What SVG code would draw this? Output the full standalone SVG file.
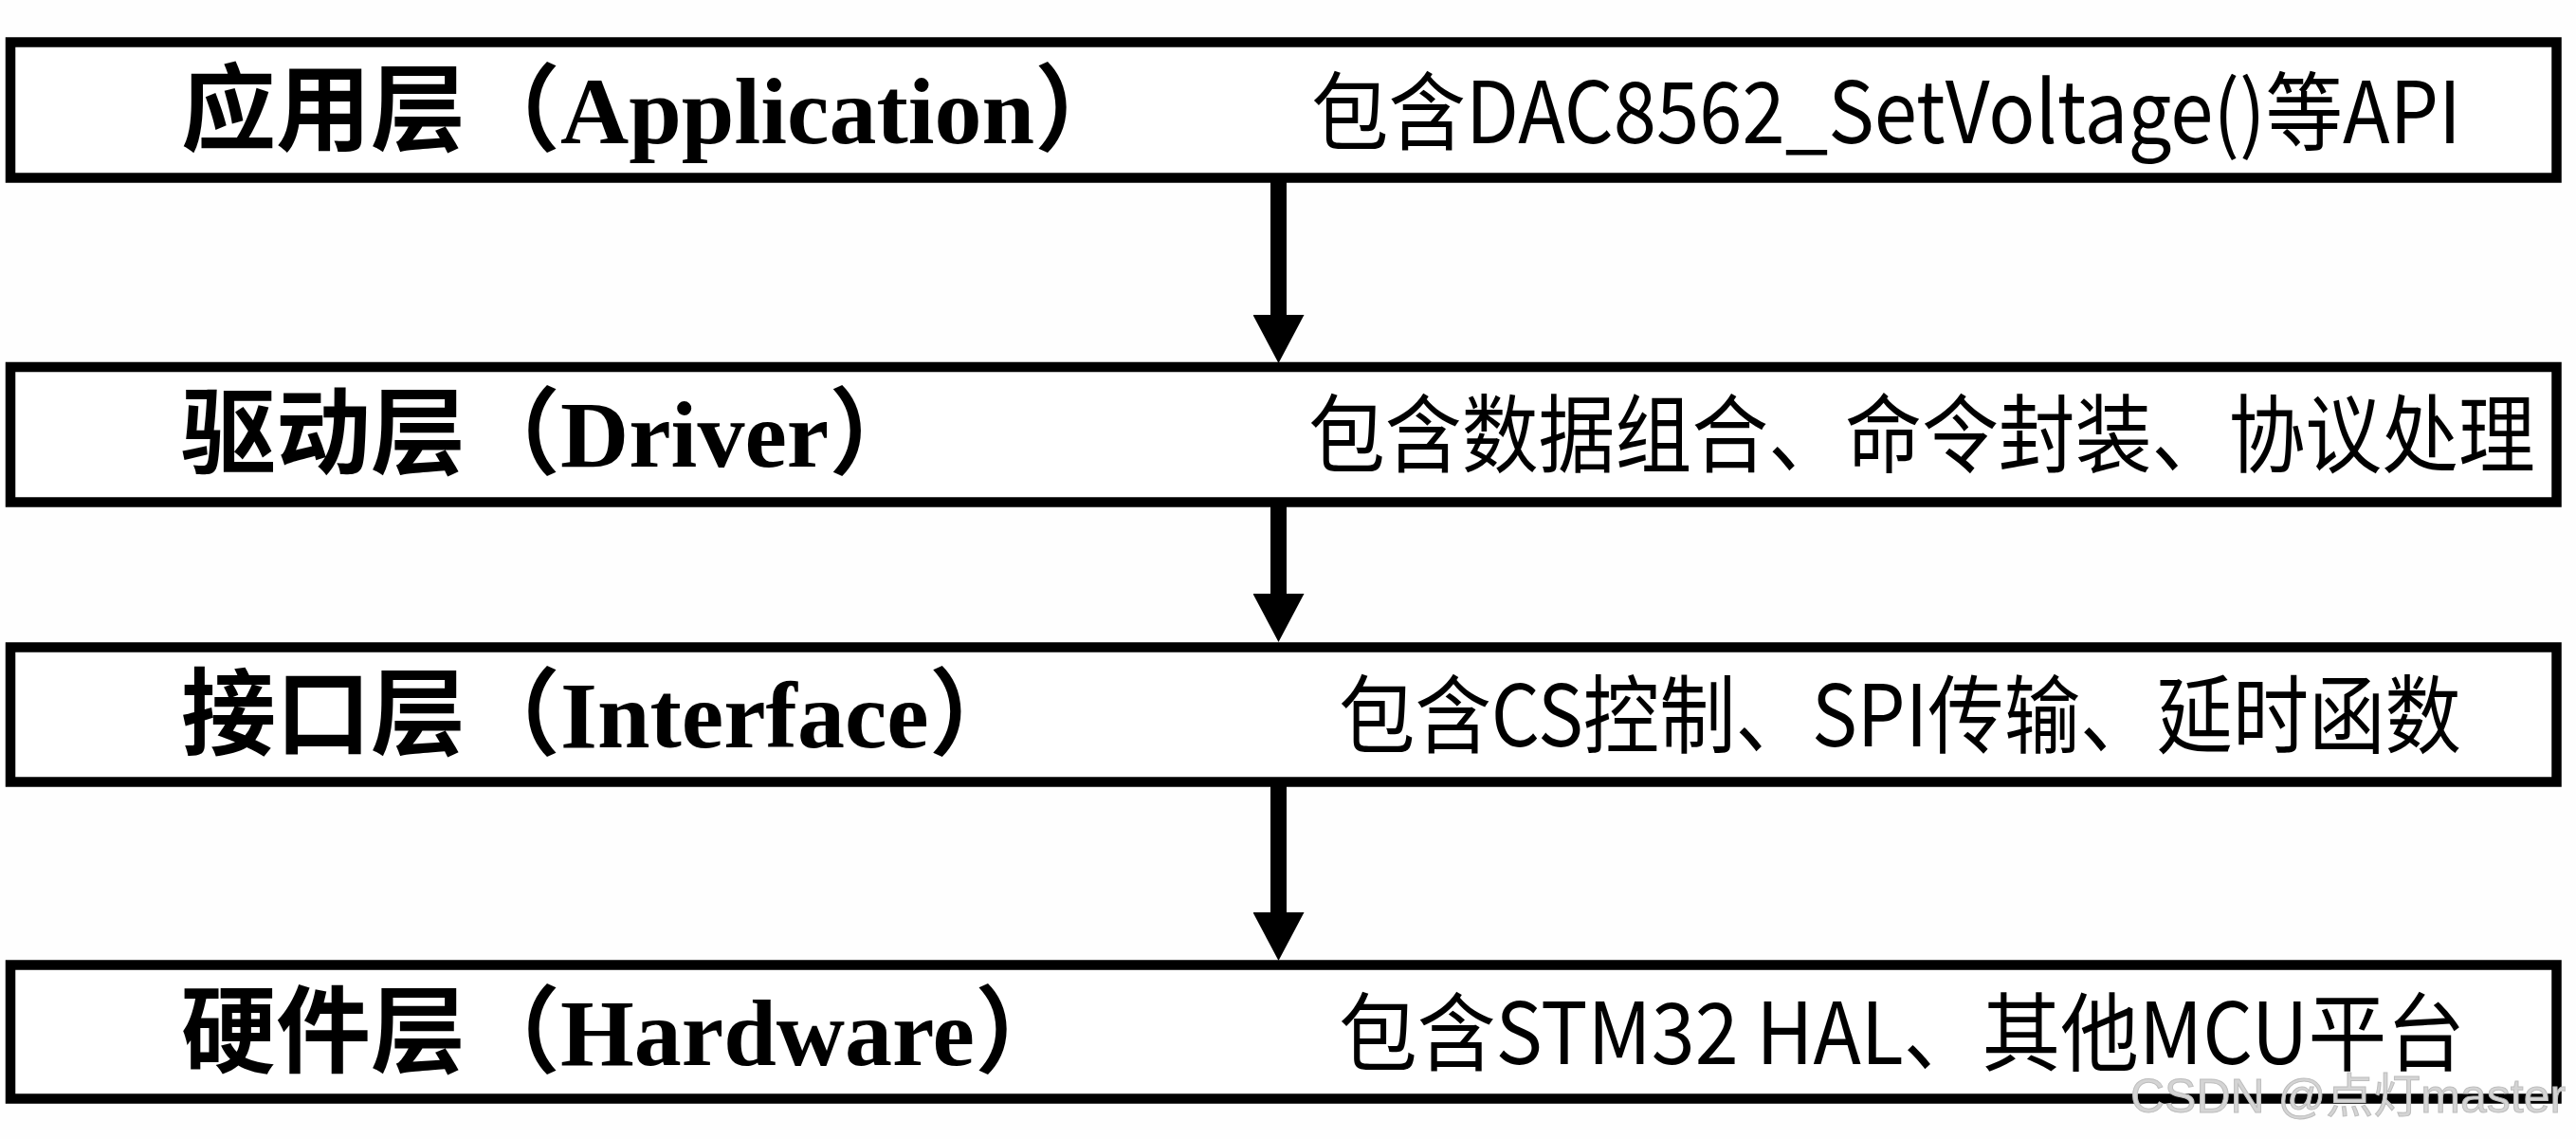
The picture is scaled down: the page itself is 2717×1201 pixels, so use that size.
<svg xmlns="http://www.w3.org/2000/svg" width="2717" height="1201" viewBox="0 0 2717 1201">
  <style>
    .box { fill: #ffffff; stroke: #000000; stroke-width: 10.5; }
    .title { font-family: "Liberation Serif", "Noto Sans CJK SC", serif; font-weight: bold; font-size: 100px; fill: #000; }
    .desc { font-family: "Noto Sans CJK SC", sans-serif; font-size: 90px; fill: #000; }
    .conn { stroke: #000; stroke-width: 17; fill: none; }
    .wm { font-family: "Liberation Sans", "Noto Sans CJK SC", sans-serif; font-size: 50px; fill: #d4d4d4; stroke: #bdbdbd; stroke-width: 1; }
  </style>
  <defs>
    <marker id="head" viewBox="0 0 51 54" markerWidth="51" markerHeight="54" markerUnits="userSpaceOnUse" refX="0" refY="27" orient="auto">
      <path d="M0,0 L51,27 L0,54 Z" fill="#000"/>
    </marker>
  </defs>
  <rect width="2717" height="1201" fill="#fefefe"/>

  <g id="connectors">
    <line class="conn" x1="1348.5" y1="192" x2="1348.5" y2="332" marker-end="url(#head)"/>
    <line class="conn" x1="1348.5" y1="534" x2="1348.5" y2="626" marker-end="url(#head)"/>
    <line class="conn" x1="1348.5" y1="829" x2="1348.5" y2="962" marker-end="url(#head)"/>
  </g>

  <g id="application">
    <rect class="box" x="11" y="44.5" width="2685.5" height="143"/>
    <text class="title" x="191" y="151">应用层（Application）</text>
    <text class="desc" x="1383" y="151" font-size="94" textLength="1213" lengthAdjust="spacingAndGlyphs">包含DAC8562_SetVoltage()等API</text>
  </g>

  <g id="driver">
    <rect class="box" x="11" y="387" width="2685.5" height="142.5"/>
    <text class="title" x="191" y="492">驱动层（Driver）</text>
    <text class="desc" x="1380" y="491" textLength="1294" lengthAdjust="spacingAndGlyphs">包含数据组合、命令封装、协议处理</text>
  </g>

  <g id="interface">
    <rect class="box" x="11" y="682.5" width="2685.5" height="142"/>
    <text class="title" x="191" y="788">接口层（Interface）</text>
    <text class="desc" x="1412" y="787" textLength="1184" lengthAdjust="spacingAndGlyphs">包含CS控制、SPI传输、延时函数</text>
  </g>

  <g id="hardware">
    <rect class="box" x="11" y="1017.5" width="2685.5" height="141"/>
    <text class="title" x="191" y="1123">硬件层（Hardware）</text>
    <text class="desc" x="1412" y="1122" textLength="1188" lengthAdjust="spacingAndGlyphs">包含STM32 HAL、其他MCU平台</text>
  </g>

  <text class="wm" x="2247" y="1173">CSDN @点灯master</text>
</svg>
